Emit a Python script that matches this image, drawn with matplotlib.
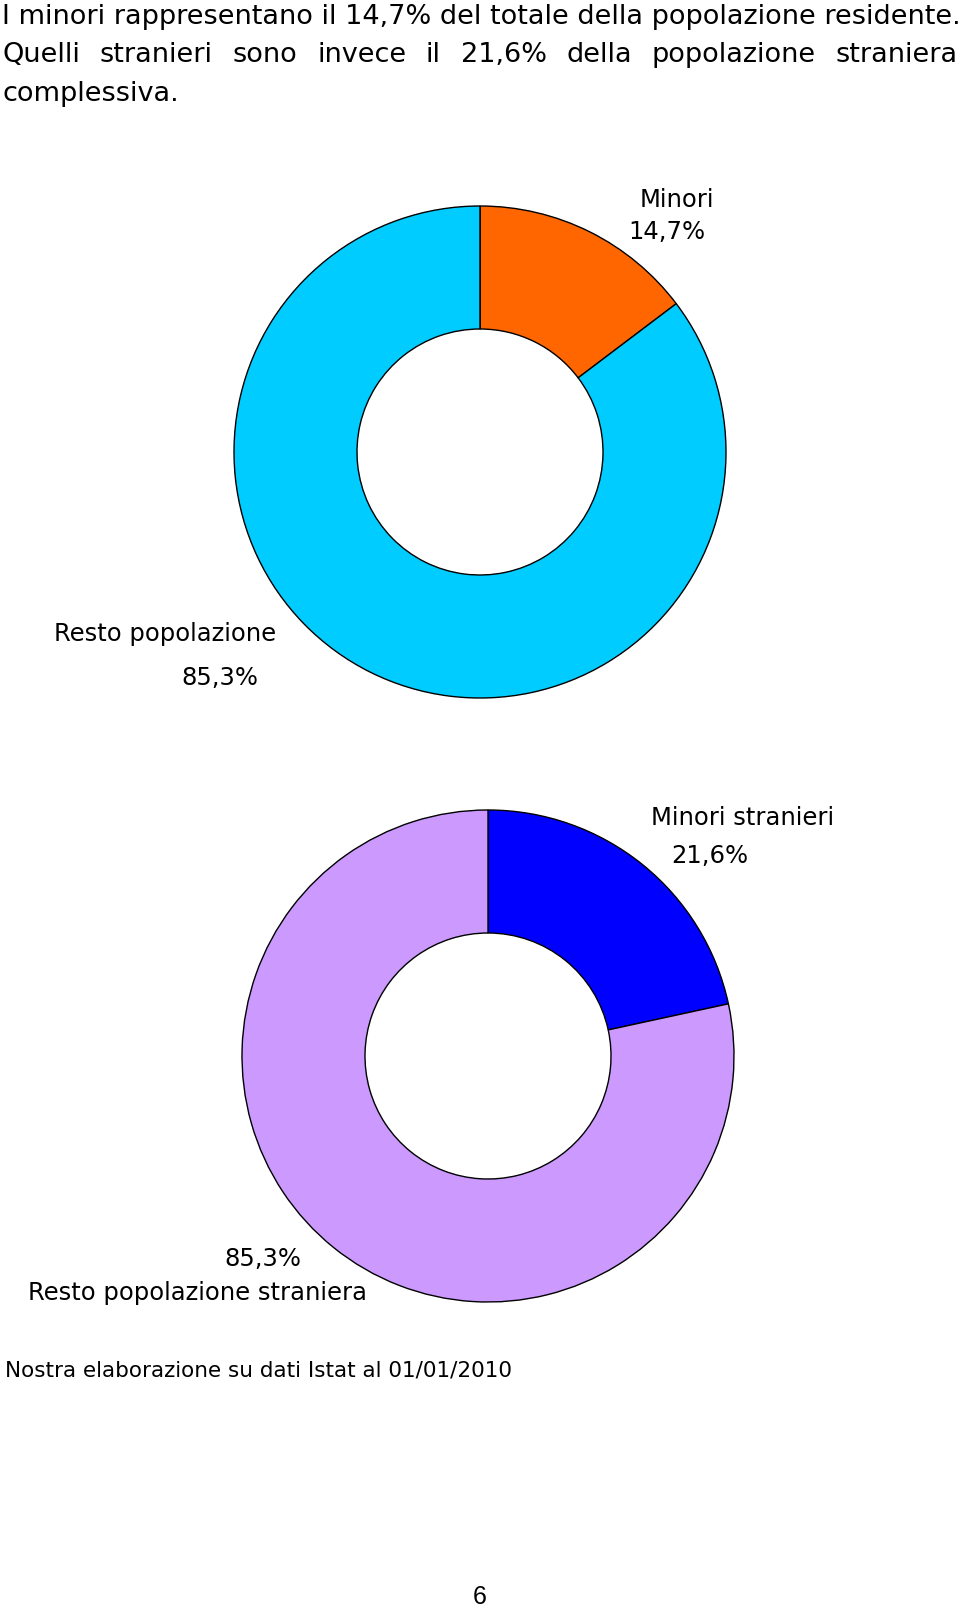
import matplotlib
matplotlib.use("Agg")
import matplotlib.pyplot as plt

W, H = 960, 1609

# chart 1: total population
labels_tot = ["Minori", "Resto popolazione"]
values_tot = [14.7, 85.3]
pct_tot = ["14,7%", "85,3%"]
colors_tot = ["#FF6600", "#00CCFF"]

# chart 2: foreign population
labels_str = ["Minori stranieri", "Resto popolazione straniera"]
values_str = [21.6, 78.4]
pct_str = ["21,6%", "85,3%"]  # as printed in the original
colors_str = ["#0000FF", "#CC99FF"]

title_lines = [
    "I minori rappresentano il 14,7% del totale della popolazione residente.",
    "Quelli stranieri sono invece il 21,6% della popolazione straniera",
    "complessiva.",
]
source = "Nostra elaborazione su dati Istat al 01/01/2010"
page_no = "6"

FONT = "DejaVu Sans"

fig = plt.figure(figsize=(W / 100, H / 100), dpi=100)
ax = fig.add_axes([0, 0, 1, 1])


def py(y):
    # pixel row from top -> data y
    return H - y


def donut(values, colors, cx, cy, r):
    ax.pie(values, colors=colors, center=(cx, py(cy)), radius=r,
           startangle=90, counterclock=False,
           wedgeprops=dict(width=r / 2, edgecolor="black", linewidth=1.0))


donut(values_tot, colors_tot, 480, 452, 246)
donut(values_str, colors_str, 488, 1056, 246)

ax.set_xlim(0, W)
ax.set_ylim(0, H)
ax.set_aspect("auto")
ax.axis("off")

lbl = dict(fontsize=17.5, family=FONT, va="center", ha="center")
ax.text(677, py(200), labels_tot[0], **lbl)
ax.text(667, py(232), pct_tot[0], **lbl)
ax.text(165, py(634), labels_tot[1], **lbl)
ax.text(220, py(678), pct_tot[1], **lbl)

ax.text(743, py(818), labels_str[0], **lbl)
ax.text(710, py(856), pct_str[0], **lbl)
ax.text(263, py(1259), pct_str[1], **lbl)
ax.text(198, py(1293), labels_str[1], **lbl)

# title paragraph
tsize = 19.5
ax.text(2, py(17), title_lines[0], fontsize=tsize, family=FONT, va="center", ha="left")
ax.text(2, py(94), title_lines[2], fontsize=tsize, family=FONT, va="center", ha="left")

# justified second line
fig.canvas.draw()
renderer = fig.canvas.get_renderer()
words = title_lines[1].split()
arts = [ax.text(0, py(55), w, fontsize=tsize, family=FONT, va="center", ha="left") for w in words]
widths = [a.get_window_extent(renderer).width for a in arts]
left, right = 2, 958
gap = (right - left - sum(widths)) / (len(words) - 1)
x = left
for a, w in zip(arts, widths):
    a.set_x(x)
    x += w + gap

ax.text(5, py(1371), source, fontsize=15.5, family=FONT, va="center", ha="left")
ax.text(480, py(1597), page_no, fontsize=18, family="Liberation Sans", va="center", ha="center")

fig.savefig("out.png", dpi=100, facecolor="white")
